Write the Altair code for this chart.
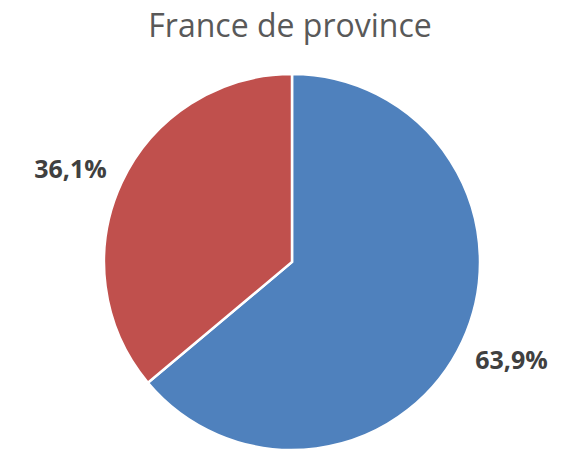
import altair as alt
import pandas as pd

categories = ["A", "B"]
values = [63.9, 36.1]
labels = ["63,9%", "36,1%"]
order = [0, 1]
colors = ["#4F81BD", "#C0504D"]

df = pd.DataFrame({"cat": categories, "value": values, "label": labels, "order": order})

CX, CY = 284, 254

base = alt.Chart(df).encode(
    theta=alt.Theta("value:Q", stack=True),
    order=alt.Order("order:Q"),
)

pie = base.mark_arc(stroke="white", strokeWidth=2.5).encode(
    color=alt.Color("cat:N", scale=alt.Scale(domain=categories, range=colors), legend=None),
    x=alt.value(CX),
    y=alt.value(CY),
    radius=alt.value(188),
)

lab_base = alt.Chart(df).transform_window(
    cum="sum(value)", sort=[alt.SortField("order")], frame=[None, 0]
).transform_calculate(mid="datum.cum - datum.value / 2")

def label_layer(cat, dx, dy):
    return lab_base.transform_filter(alt.datum.cat == cat).mark_text(
        font="Open Sans", fontSize=25, fontWeight="bold", color="#404040",
        align="center", baseline="middle", dx=dx, dy=dy,
    ).encode(
        theta=alt.Theta("mid:Q", stack=None,
                        scale=alt.Scale(domain=[0, 100], range=[0, 6.283185307179586])),
        text="label:N",
        x=alt.value(CX),
        y=alt.value(CY),
        radius=alt.value(240),
    )

text_a = label_layer("A", 2, -3)
text_b = label_layer("B", -4, 10)

title = alt.Chart(pd.DataFrame({"t": ["France de province"]})).mark_text(
    font="Open Sans", fontSize=32, color="#595959", align="center", baseline="alphabetic",
).encode(text="t:N", x=alt.value(282), y=alt.value(29))

chart = alt.layer(pie, text_a, text_b, title).properties(
    width=562, height=441, autosize=alt.AutoSizeParams(type="none"), padding=0,
).resolve_scale(theta="independent").configure_view(stroke=None)

chart.save("out.html", embed_options={"renderer": "svg", "actions": False})
